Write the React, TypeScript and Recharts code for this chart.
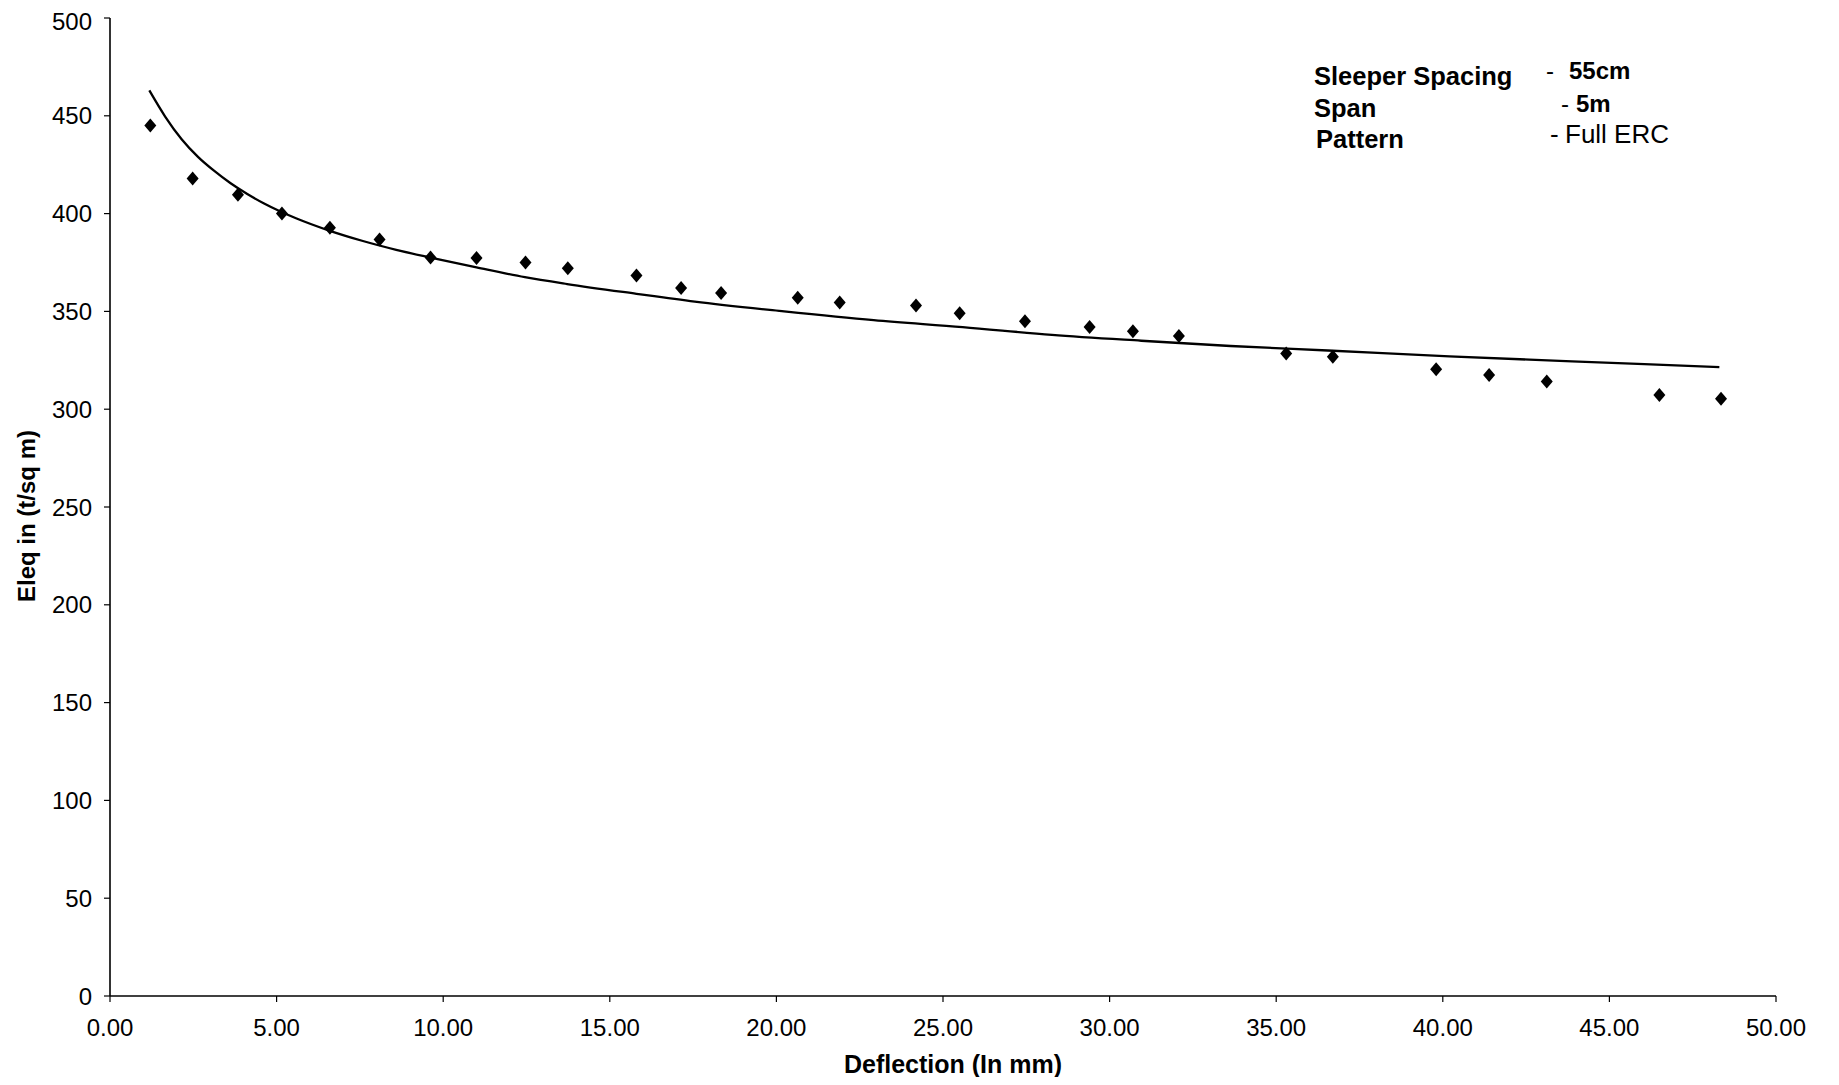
import React from 'react';
import { ComposedChart, XAxis, YAxis, Line, Scatter } from 'recharts';

// Measured points (deflection in mm, Eleq in t/sq m)
const pointDeflection = [1.21, 2.48, 3.84, 5.16, 6.6, 8.09, 9.62, 11.0, 12.47, 13.74, 15.8, 17.14, 18.34, 20.64, 21.9, 24.19, 25.5, 27.46, 29.4, 30.7, 32.08, 35.3, 36.7, 39.8, 41.39, 43.12, 46.5, 48.35];
const pointEleq = [445, 418, 409.6, 400, 392.8, 386.8, 377.5, 377.3, 375, 372, 368.3, 362, 359.4, 357, 354.5, 353, 349, 345, 342, 339.8, 337.4, 328.5, 326.8, 320.4, 317.5, 314.2, 307.2, 305.3];

// Trend line
const trendDeflection = [1.18, 1.66, 2.15, 2.64, 3.13, 3.62, 4.12, 4.61, 5.1, 5.6, 6.6, 7.59, 8.59, 9.62, 11.0, 12.45, 13.72, 15.8, 17.55, 20.23, 22.92, 25.59, 28.27, 30.95, 33.63, 36.55, 40.2, 43.88, 48.3];
const trendEleq = [463, 449.5, 438, 429, 421.8, 415.5, 410, 405.3, 401.2, 397.5, 391.2, 386, 381.5, 377.5, 372.5, 367.5, 364, 359, 355, 350, 345.5, 342, 338, 335, 332.3, 330, 327, 324.5, 321.5];

const xTicks = [0, 5, 10, 15, 20, 25, 30, 35, 40, 45, 50];
const yTicks = [0, 50, 100, 150, 200, 250, 300, 350, 400, 450, 500];

const xTitle = 'Deflection (In mm)';
const yTitle = 'Eleq in (t/sq m)';
const noteLabels = ['Sleeper Spacing', 'Span', 'Pattern'];
const noteValues = ['55cm', '5m', 'Full ERC'];

const pointData = pointDeflection.map((x, i) => ({ x, y: pointEleq[i] }));
const trendData = trendDeflection.map((x, i) => ({ x, y: trendEleq[i] }));

const FONT = '"Liberation Sans", Arial, Helvetica, sans-serif';

const Diamond = (props: any) => {
  const { cx, cy } = props;
  if (cx == null || cy == null) return null;
  return (
    <polygon
      points={`${cx},${cy - 7} ${cx + 6},${cy} ${cx},${cy + 7} ${cx - 6},${cy}`}
      fill="#000"
    />
  );
};

export default function App() {
  const W = 1823;
  const H = 1069;
  return (
    <div style={{ position: 'relative', width: W, height: H, overflow: 'hidden', background: '#fff' }}>
      <ComposedChart width={W} height={H} margin={{ top: 10, right: 55, bottom: 21, left: 0 }}>
        <XAxis
          type="number"
          dataKey="x"
          domain={[0, 50]}
          ticks={xTicks}
          tickFormatter={(v: number) => v.toFixed(2)}
          tick={{ fill: '#000', fontSize: 24, fontFamily: FONT }}
          tickSize={6}
          tickMargin={17}
          axisLine={{ stroke: '#000', strokeWidth: 1.6 }}
          tickLine={{ stroke: '#000', strokeWidth: 1.2 }}
          height={60}
          allowDataOverflow
        />
        <YAxis
          type="number"
          dataKey="y"
          domain={[0, 500]}
          ticks={yTicks}
          tick={{ fill: '#000', fontSize: 24, fontFamily: FONT }}
          tickSize={6}
          tickMargin={12}
          axisLine={{ stroke: '#000', strokeWidth: 1.6 }}
          tickLine={{ stroke: '#000', strokeWidth: 1.2 }}
          width={102}
          allowDataOverflow
        />
        <Line
          data={trendData}
          dataKey="y"
          type="monotone"
          stroke="#000"
          strokeWidth={2.3}
          dot={false}
          activeDot={false}
          isAnimationActive={false}
        />
        <Scatter data={pointData} dataKey="y" fill="#000" shape={Diamond} isAnimationActive={false} />
      </ComposedChart>
      <svg
        width={W}
        height={H}
        style={{ position: 'absolute', left: 0, top: 0, pointerEvents: 'none' }}
        fontFamily={FONT}
      >
        <text x={945} y={1065} textAnchor="middle" fontSize={25} fontWeight="bold" fill="#000">
          {xTitle}
        </text>
        <text
          x={27}
          y={508}
          textAnchor="middle"
          fontSize={24}
          fontWeight="bold"
          fill="#000"
          transform="rotate(-90, 27, 508)"
        >
          {yTitle}
        </text>
        <text x={1306} y={77} fontSize={25.5} fontWeight="bold" fill="#000">{noteLabels[0]}</text>
        <text x={1306} y={109} fontSize={25.5} fontWeight="bold" fill="#000">{noteLabels[1]}</text>
        <text x={1308} y={140} fontSize={25.5} fontWeight="bold" fill="#000">{noteLabels[2]}</text>
        <text x={1538} y={71} fontSize={24} fill="#000">-</text>
        <text x={1561} y={71} fontSize={24} fontWeight="bold" fill="#000">{noteValues[0]}</text>
        <text x={1553} y={104} fontSize={24} fill="#000">-</text>
        <text x={1568} y={104} fontSize={24} fontWeight="bold" fill="#000">{noteValues[1]}</text>
        <text x={1542} y={135} fontSize={26} fill="#000">-</text>
        <text x={1557} y={135} fontSize={26} fill="#000">{noteValues[2]}</text>
      </svg>
    </div>
  );
}
